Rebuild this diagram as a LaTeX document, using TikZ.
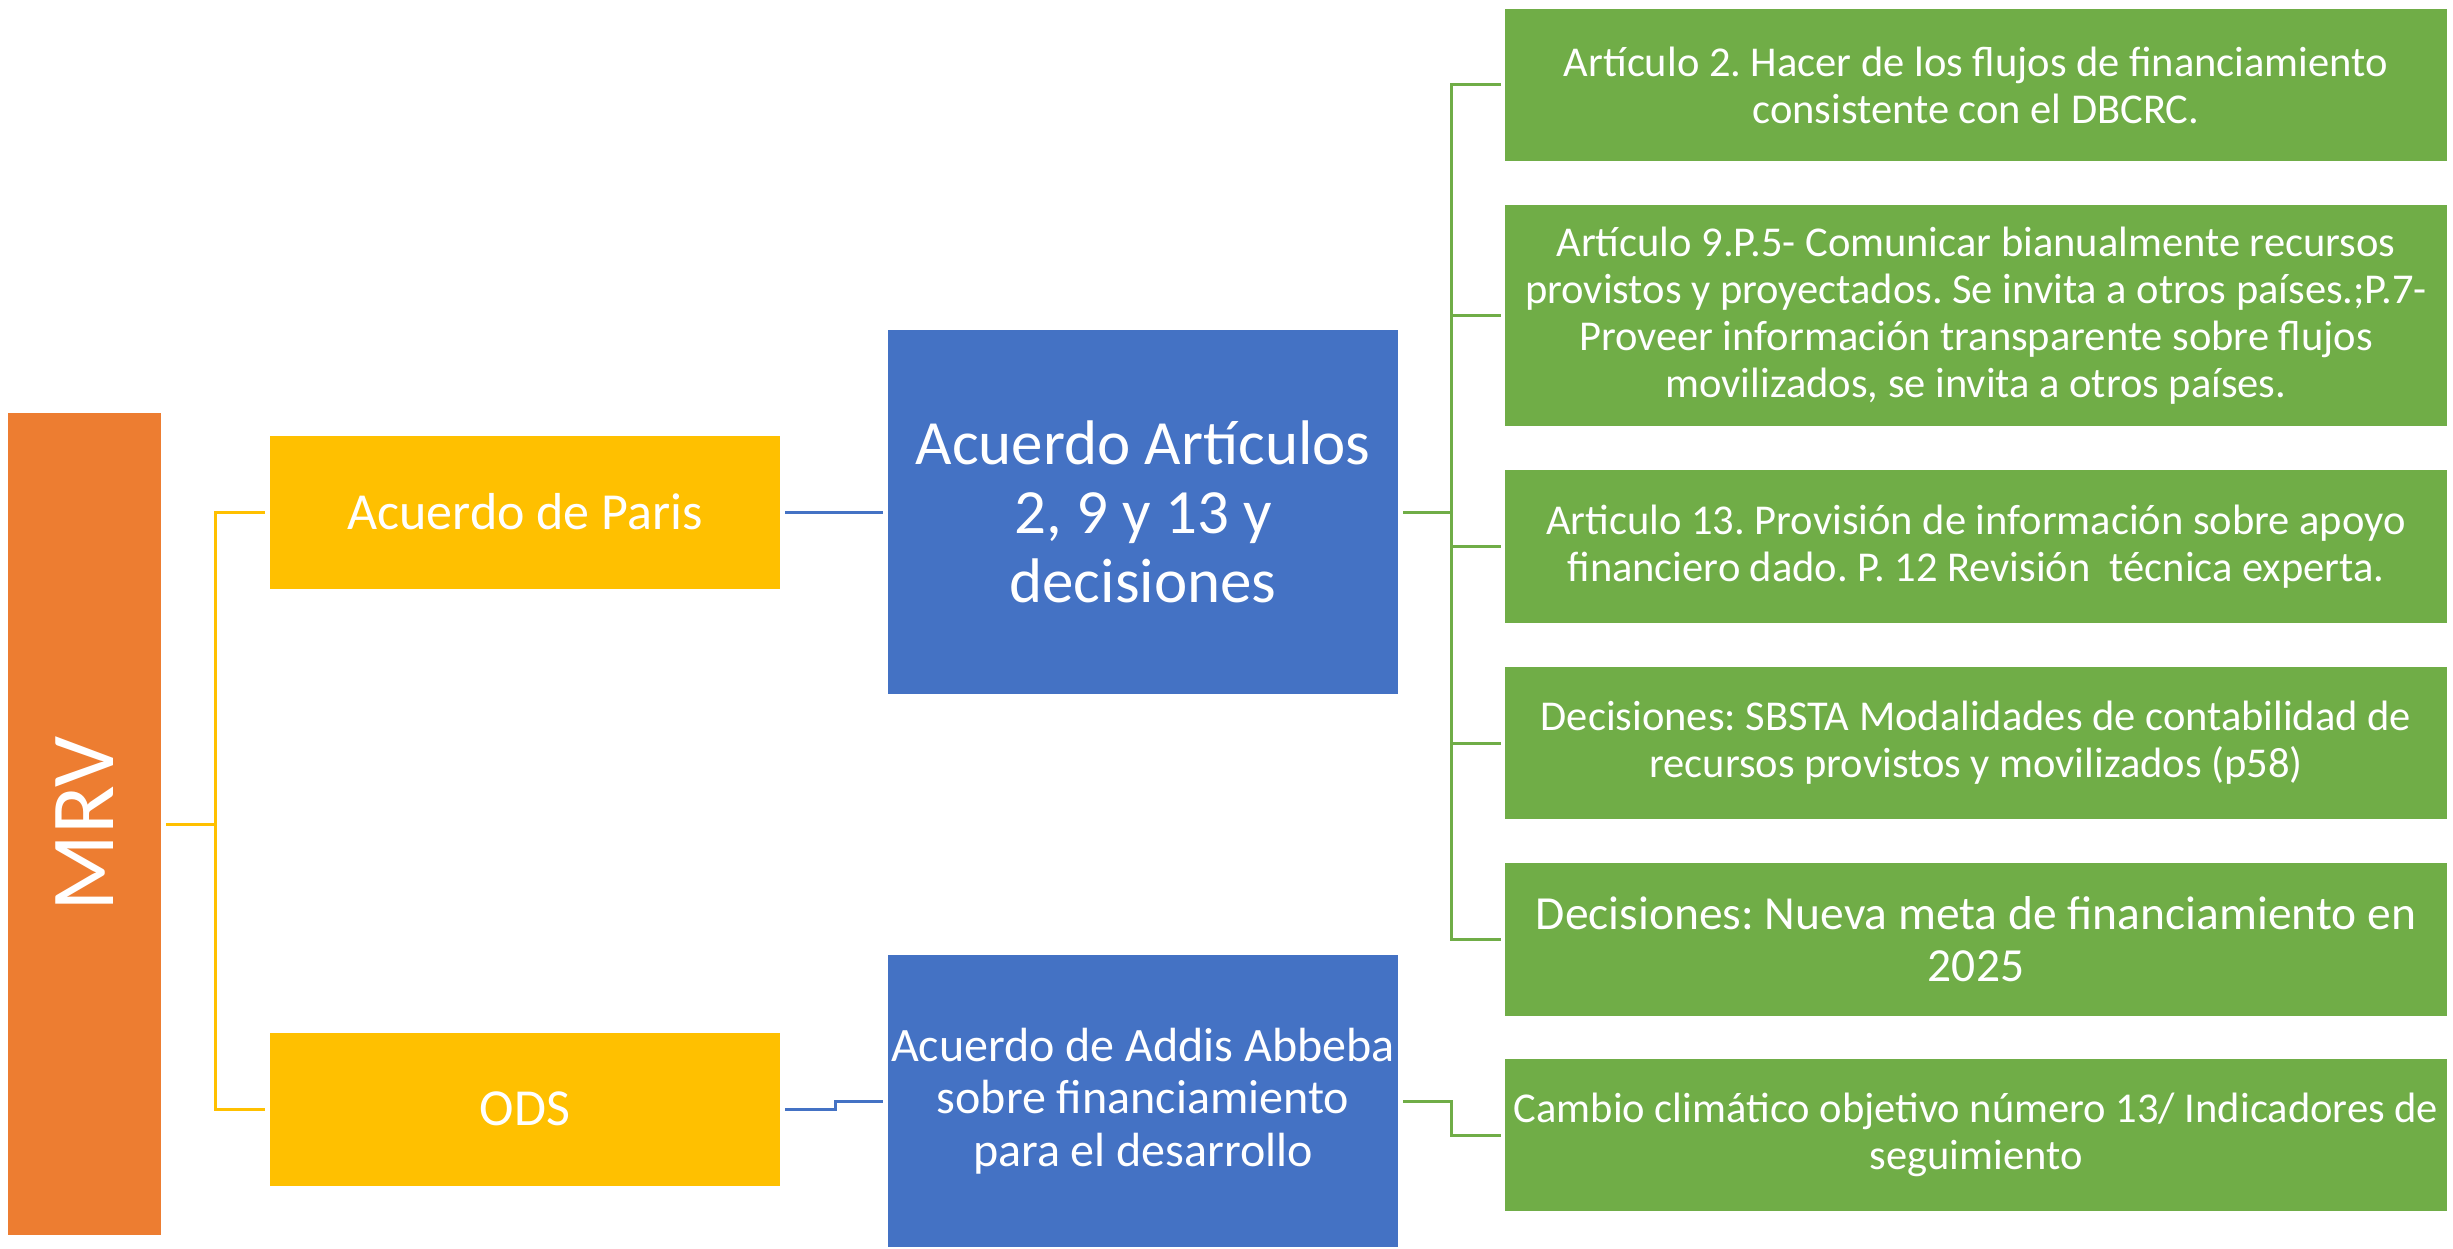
\documentclass[tikz,border=0pt]{standalone}
\usepackage{fontspec}
\setmainfont{Carlito}
\frenchspacing
\definecolor{orangeC}{HTML}{ED7D31}
\definecolor{yellowC}{HTML}{FFC000}
\definecolor{blueC}{HTML}{4472C4}
\definecolor{greenC}{HTML}{70AD47}
\begin{document}
\begin{tikzpicture}[x=1pt,y=-1pt,
  box/.style={rectangle, inner sep=0pt, text=white, align=center, draw=none},
  mrvbox/.style={box, fill=orangeC, minimum width=153pt, minimum height=822pt, font=\fontsize{90}{99}\selectfont},
  yelbox/.style={box, fill=yellowC, minimum width=510pt, minimum height=153pt, font=\fontsize{52}{57}\selectfont},
  bluebox/.style={box, fill=blueC, minimum width=510pt},
  greenbox/.style={box, fill=greenC, minimum width=942pt, font=\fontsize{42.5}{47}\selectfont},
  conn/.style={line width=3pt},
  yconn/.style={conn, draw=yellowC},
  bconn/.style={conn, draw=blueC},
  gconn/.style={conn, draw=greenC}
]
\useasboundingbox (0,0) rectangle (2453,1249);

% left
\node[mrvbox] (mrv) at (84.5,824) {\rotatebox{90}{MRV}};
\node[yelbox] (paris) at (525,512) {Acuerdo de Paris};
\node[yelbox] (ods) at (525,1109) {ODS};

% middle
\node[bluebox, minimum height=364pt, font=\fontsize{63}{69}\selectfont] (art) at (1143,512)
  {Acuerdo Artículos\\2, 9 y 13 y\\decisiones};
\node[bluebox, minimum height=292pt, font=\fontsize{48}{52.7}\selectfont] (addis) at (1143,1101)
  {Acuerdo de Addis Abbeba\\sobre financiamiento\\para el desarrollo};

% right
\node[greenbox, minimum height=152pt] (g1) at (1976,85)
  {Artículo 2. Hacer de los flujos de financiamiento\\consistente con el DBCRC.};
\node[greenbox, minimum height=221pt] (g2) at (1976,315.5)
  {Artículo 9.P.5- Comunicar bianualmente recursos\\provistos y proyectados. Se invita a otros países.;P.7-\\Proveer información transparente sobre flujos\\movilizados, se invita a otros países.};
\node[greenbox, minimum height=153pt] (g3) at (1976,546.5)
  {Articulo 13. Provisión de información sobre apoyo\\financiero dado. P. 12 Revisión\ \ técnica experta.};
\node[greenbox, minimum height=152pt] (g4) at (1976,743)
  {Decisiones: SBSTA Modalidades de contabilidad de\\recursos provistos y movilizados (p58)};
\node[greenbox, minimum height=153pt, font=\fontsize{47.5}{52}\selectfont] (g5) at (1976,939.5)
  {Decisiones: Nueva meta de financiamiento en\\2025};
\node[greenbox, minimum height=152pt] (g6) at (1976,1135)
  {Cambio climático objetivo número 13/ Indicadores de\\seguimiento};

% connectors
\coordinate (ybus) at (215,0);
\draw[yconn] ([xshift=5pt]mrv.east) -- (ybus |- mrv.east) |- ([xshift=-5pt]paris.west);
\draw[yconn] (ybus |- mrv.east) |- ([xshift=-5pt]ods.west);

\draw[bconn] ([xshift=5pt]paris.east) -- ([xshift=-5pt]art.west);
\coordinate (bstep) at (835,0);
\draw[bconn] ([xshift=5pt]ods.east) -- (bstep |- ods.east) -- (bstep |- addis.west) -- ([xshift=-5pt]addis.west);

\coordinate (gbus) at (1451,0);
\draw[gconn] ([xshift=5pt]art.east) -- (gbus |- art.east);
\draw[gconn] ([xshift=-4pt]g1.west) -| (gbus |- g5.west) -- ([xshift=-4pt]g5.west);
\foreach \g in {g2,g3,g4}
  \draw[gconn] (gbus |- \g.west) -- ([xshift=-4pt]\g.west);
\draw[gconn] ([xshift=5pt]addis.east) -- (gbus |- addis.east) |- ([xshift=-4pt]g6.west);
\end{tikzpicture}
\end{document}
